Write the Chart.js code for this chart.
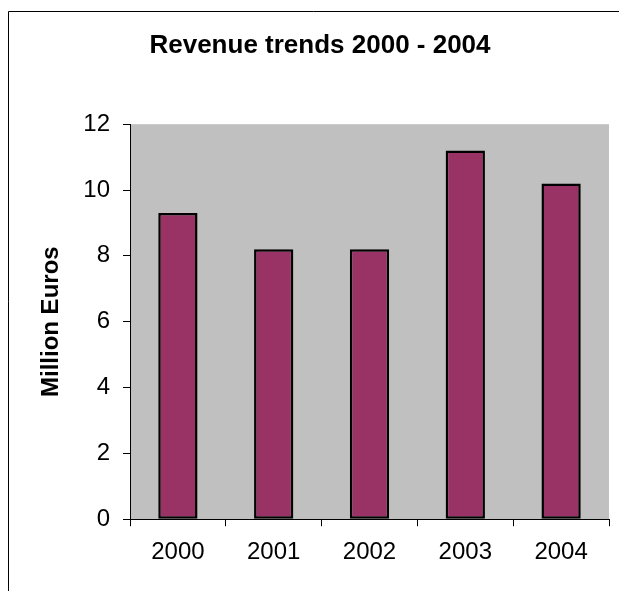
<!DOCTYPE html>
<html>
<head>
<meta charset="utf-8">
<script src="https://cdn.jsdelivr.net/npm/chart.js@4/dist/chart.umd.min.js"></script>
<style>
  body { margin: 0; background: #fff; }
  canvas { display: block; }
</style>
</head>
<body>
<canvas id="revenueChart" width="619" height="591"></canvas>
<script>
// data
const years = ['2000', '2001', '2002', '2003', '2004'];
const revenue = [9.3, 8.2, 8.2, 11.2, 10.2];
const yTicks = [0, 2, 4, 6, 8, 10, 12];

const FONT = "'Liberation Sans', Arial, sans-serif";

// grey plot background + frame around the whole picture (left/top only, like the scan)
const backdrop = {
  id: 'backdrop',
  beforeDraw(chart) {
    const { ctx, chartArea } = chart;
    ctx.save();
    ctx.fillStyle = '#fff';
    ctx.fillRect(0, 0, chart.width, chart.height);
    ctx.fillStyle = '#c0c0c0';
    ctx.fillRect(chartArea.left, chartArea.top, chartArea.right - chartArea.left, chartArea.bottom - chartArea.top);
    ctx.strokeStyle = '#000';
    ctx.lineWidth = 1;
    ctx.beginPath();
    ctx.moveTo(8.5, chart.height);
    ctx.lineTo(8.5, 11.5);
    ctx.lineTo(chart.width, 11.5);
    ctx.stroke();
    ctx.restore();
  }
};

const ctx = document.getElementById('revenueChart').getContext('2d');
const revenueChart = new Chart(ctx, {
  type: 'bar',
  data: {
    labels: years,
    datasets: [{
      label: 'Revenue',
      data: revenue,
      backgroundColor: '#993366',
      borderColor: '#000',
      borderWidth: 2.5,
      borderSkipped: false,
      barPercentage: 0.41,
      categoryPercentage: 1
    }]
  },
  options: {
    responsive: false,
    animation: false,
    layout: { padding: { left: 31, right: 10, top: 10, bottom: 12 } },
    plugins: {
      legend: { display: false },
      tooltip: { enabled: false },
      title: {
        display: true,
        text: 'Revenue trends 2000 - 2004',
        color: '#000',
        font: { family: FONT, size: 26, weight: 'bold' },
        padding: { top: 20, bottom: 63 }
      }
    },
    scales: {
      x: {
        grid: { drawOnChartArea: false, tickLength: 7, color: '#000', offset: true },
        border: { color: '#000', width: 1 },
        ticks: { color: '#000', padding: 12, font: { family: FONT, size: 24 } }
      },
      y: {
        min: 0,
        max: 12,
        afterBuildTicks(scale) {
          scale.ticks = yTicks.map(v => ({ value: v }));
        },
        afterFit(scale) { scale.width = 99; },
        grid: { drawOnChartArea: false, tickLength: 7, color: '#000' },
        border: { color: '#000', width: 1 },
        ticks: { color: '#000', padding: 13, font: { family: FONT, size: 24 } },
        title: {
          display: true,
          text: 'Million Euros',
          color: '#000',
          font: { family: FONT, size: 24, weight: 'bold' },
          padding: { top: 6, bottom: 4 }
        }
      }
    }
  },
  plugins: [backdrop]
});
</script>
</body>
</html>
